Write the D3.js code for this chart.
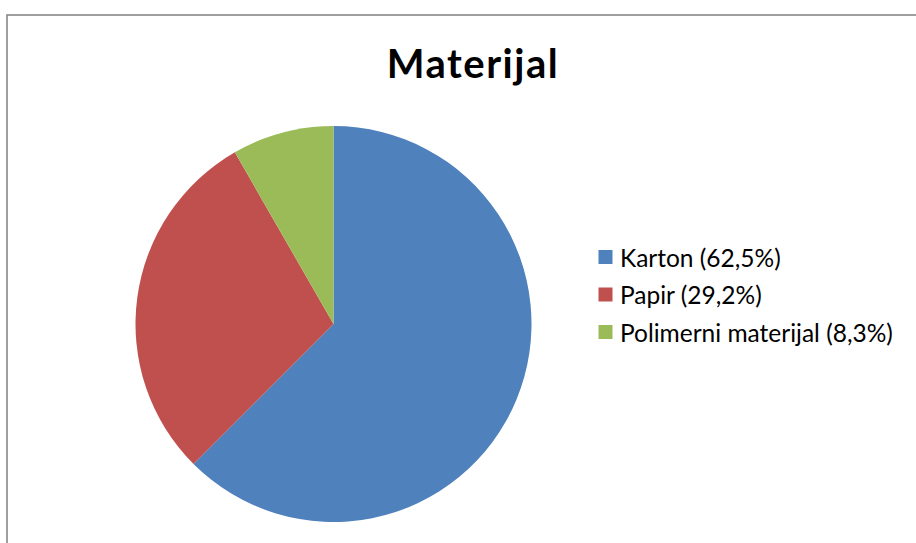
<!DOCTYPE html>
<html>
<head>
<meta charset="utf-8">
<script src="https://cdn.jsdelivr.net/npm/d3@7"></script>
<style>
  body { margin: 0; background: #fff; }
  svg { display: block; }
</style>
</head>
<body>
<div id="chart"></div>
<script>
// chart data
var categories = ["Karton", "Papir", "Polimerni materijal"];
var values = [62.5, 29.2, 8.3];
var labels = ["Karton (62,5%)", "Papir (29,2%)", "Polimerni materijal (8,3%)"];
var colors = ["#4F81BD", "#C0504D", "#9BBB59"];

var width = 916, height = 543;

var svg = d3.select("#chart")
    .append("svg")
    .attr("width", width)
    .attr("height", height);

// chart frame (right and bottom edges run off the page)
svg.append("rect")
    .attr("x", 7)
    .attr("y", 15)
    .attr("width", 940)
    .attr("height", 560)
    .style("fill", "#fff")
    .style("stroke", "#878787")
    .style("stroke-width", 1.6);

svg.append("text")
    .attr("x", 473)
    .attr("y", 78)
    .attr("text-anchor", "middle")
    .style("font-family", "Lato, 'Open Sans', sans-serif")
    .style("font-weight", "bold")
    .style("font-size", "40px")
    .style("letter-spacing", "1.5px")
    .style("fill", "#000")
    .text("Materijal");

var radius = 198;
var pieG = svg.append("g")
    .attr("transform", "translate(333.5,324)");

var pie = d3.pie().sort(null).value(function(d) { return d; });
var arc = d3.arc().innerRadius(0).outerRadius(radius);

pieG.selectAll("path")
    .data(pie(values))
    .enter().append("path")
    .attr("d", arc)
    .style("fill", function(d, i) { return colors[i]; });

// legend
var legend = svg.append("g")
    .attr("transform", "translate(598.5,250)");

var item = legend.selectAll(".item")
    .data(categories)
    .enter().append("g")
    .attr("class", "item")
    .attr("transform", function(d, i) { return "translate(0," + (i * 37.5) + ")"; });

item.append("rect")
    .attr("width", 14)
    .attr("height", 14)
    .style("fill", function(d, i) { return colors[i]; });

item.append("text")
    .attr("x", 21.5)
    .attr("y", 16.5)
    .style("font-family", "Lato, 'Open Sans', sans-serif")
    .style("font-size", "24.5px")
    .style("fill", "#000")
    .text(function(d, i) { return labels[i]; });
</script>
</body>
</html>
